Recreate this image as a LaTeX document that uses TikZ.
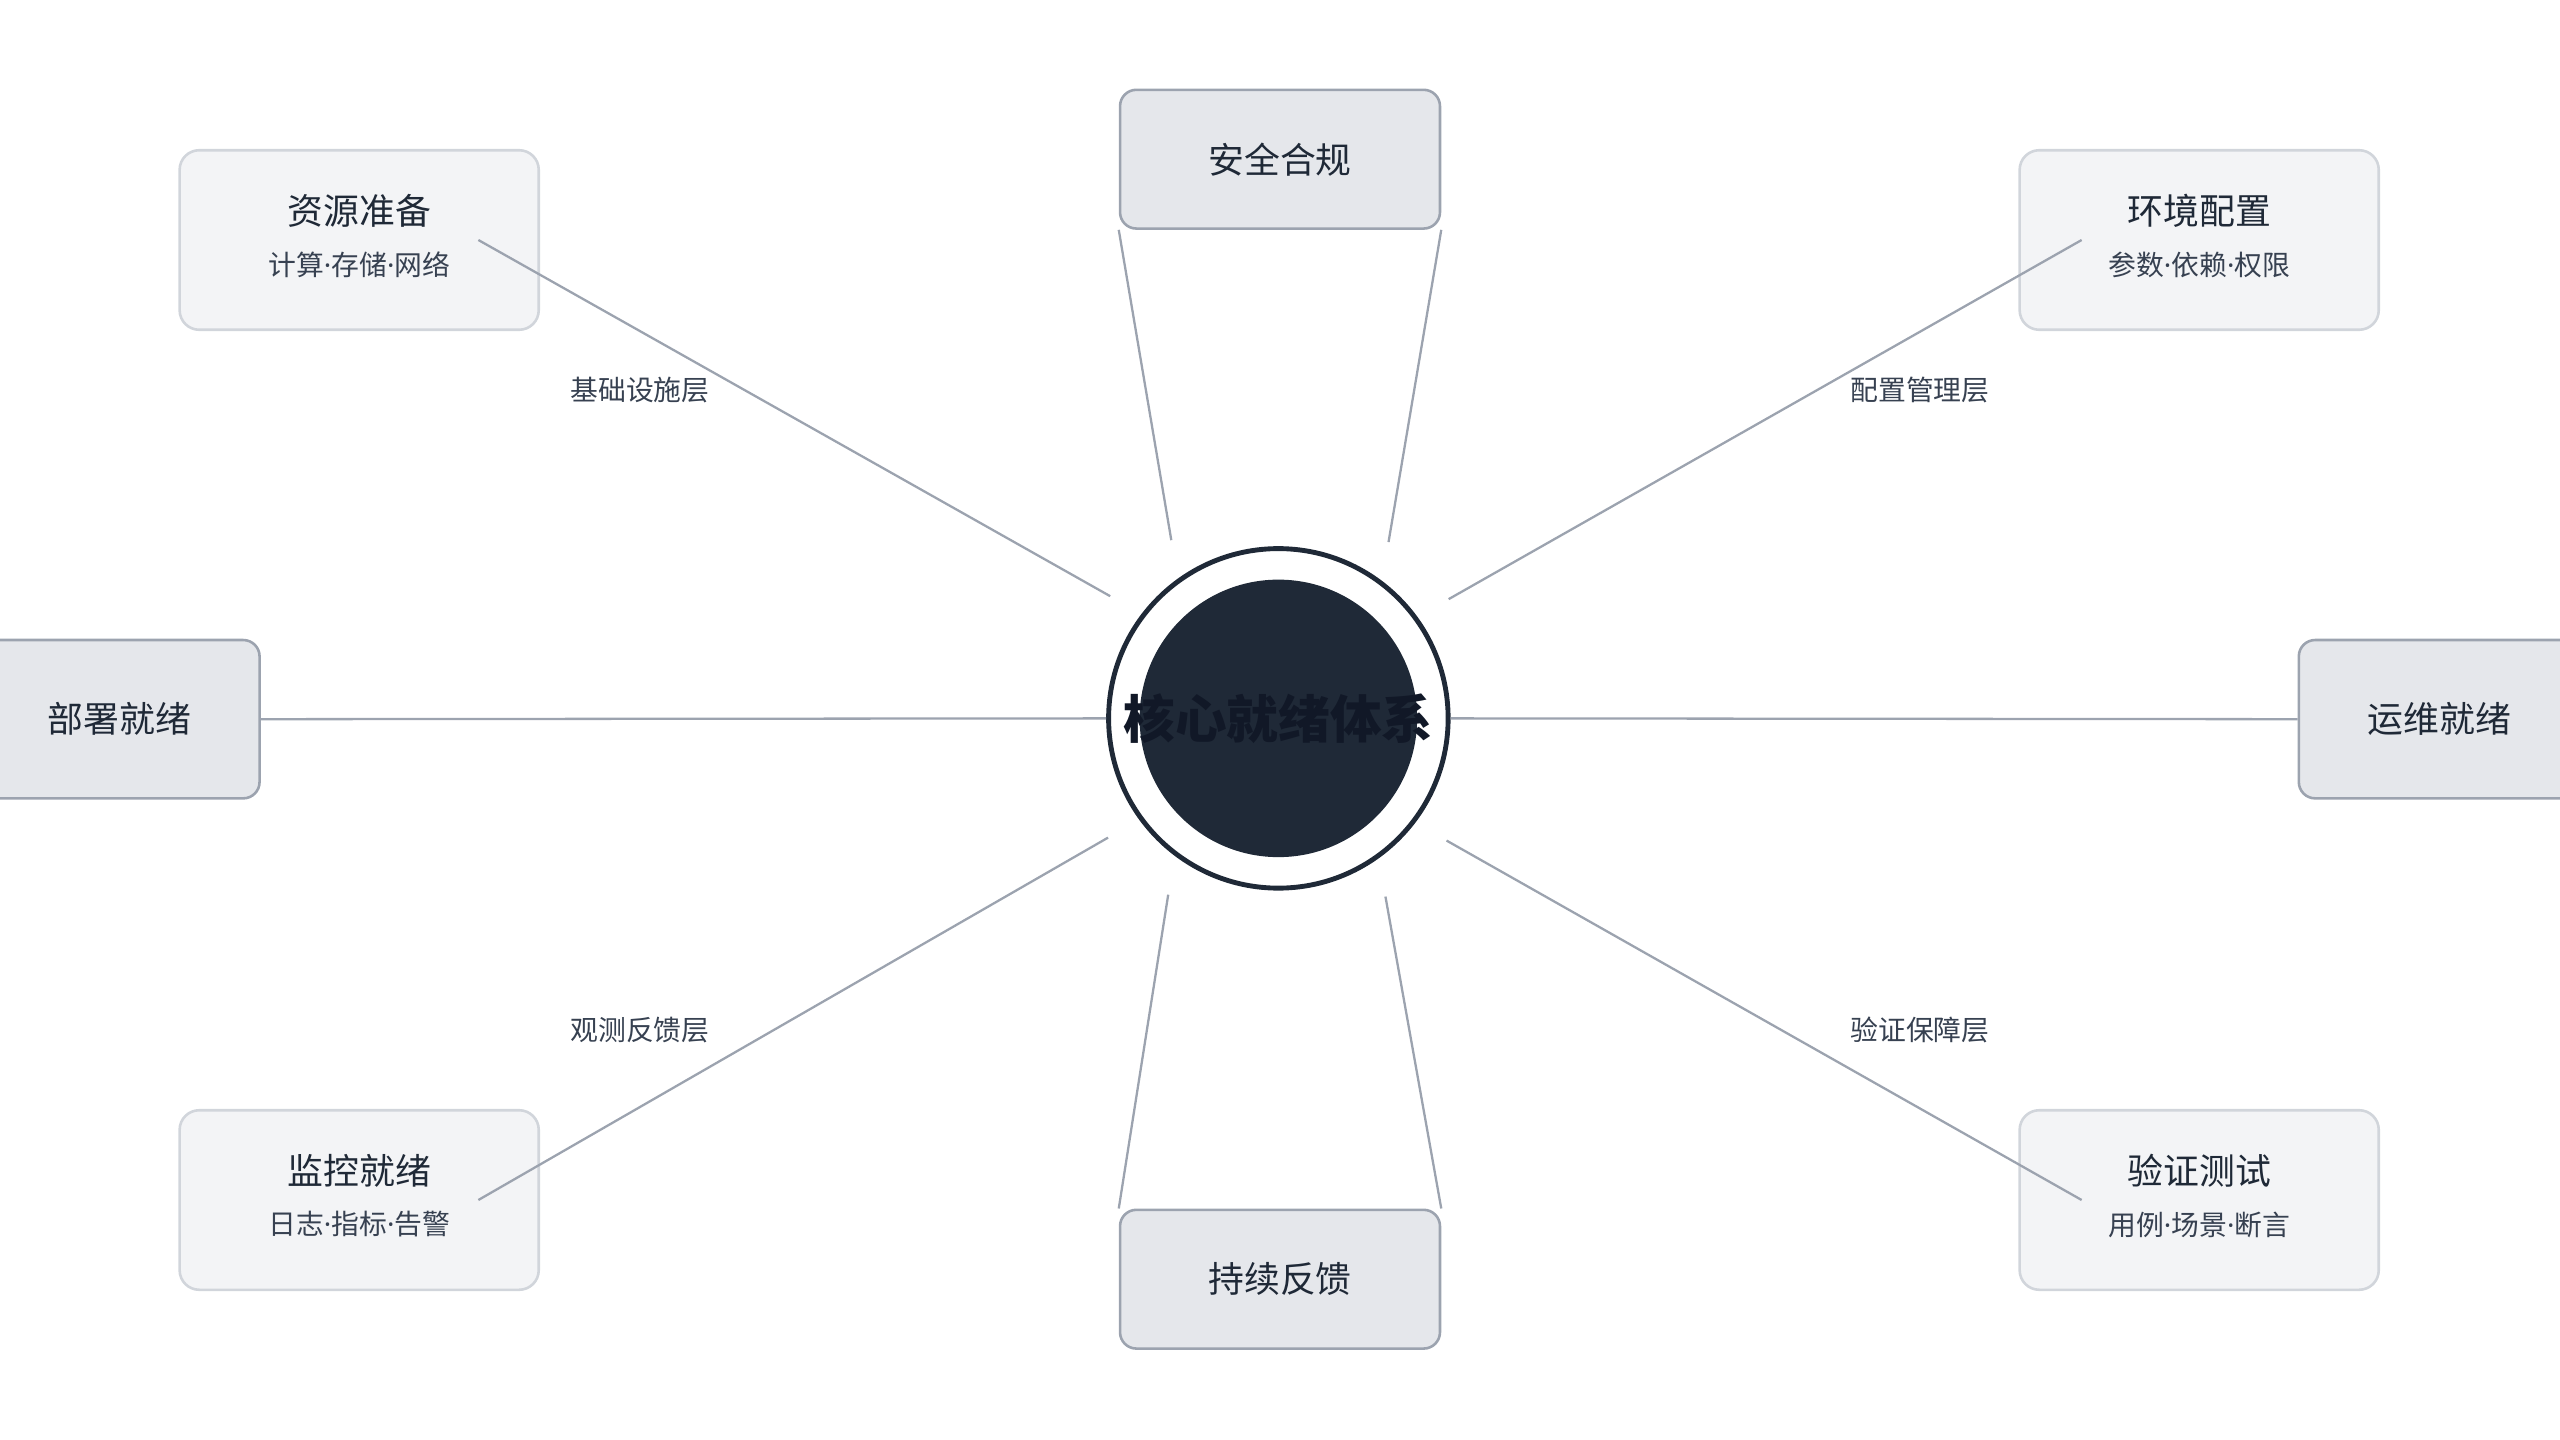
\documentclass[tikz,border=0pt]{standalone}
\usepackage{fontspec}
\setmainfont{Noto Sans CJK SC}
\newfontfamily\latinfont{Noto Sans}
\newcommand{\sepdot}{{\latinfont ·}}
\definecolor{ink}{HTML}{1F2937}
\definecolor{inkdeep}{HTML}{111827}
\definecolor{subink}{HTML}{374151}
\definecolor{edge}{HTML}{9CA3AF}
\definecolor{pale}{HTML}{D1D5DB}
\definecolor{boxgray}{HTML}{E5E7EB}
\definecolor{boxlight}{HTML}{F3F4F6}

\begin{document}
\begin{tikzpicture}[x=0.02cm,y=-0.02cm,
  every node/.style={inner sep=0pt},
  mainbox/.style={rectangle, rounded corners=0.2cm, fill=boxgray, draw=edge, line width=0.9pt, minimum width=3.92cm, minimum height=1.7cm, text=ink, font=\fontsize{12.5}{15}\selectfont},
  sidebox/.style={rectangle, rounded corners=0.24cm, fill=boxlight, draw=pale, line width=0.9pt, minimum width=4.4cm, minimum height=2.2cm},
  headtext/.style={text=ink, font=\fontsize{12.5}{15}\selectfont},
  subtext/.style={text=subink, font=\fontsize{9.7}{12}\selectfont},
  link/.style={draw=edge, line width=0.8pt}]
\clip (0,0) rectangle (1568,882);
% centre
\node (halo) [circle, minimum size=5.08cm] at (783,440) {};
\node (hub) [circle, minimum size=4.16cm, fill=white, draw=ink, line width=1.7pt] at (783,440) {};
\node (core) [circle, minimum size=3.4cm, fill=ink] at (783,440) {};
% boxes
\node (safe) [mainbox] at (784,97.5) {安全合规};
\node (feed) [mainbox] at (784,783.5) {持续反馈};
\node (deploy) [mainbox, minimum width=3.44cm, minimum height=1.94cm] at (73,440.5) {部署就绪};
\node (ops) [mainbox, minimum width=3.44cm, minimum height=1.94cm] at (1494,440.5) {运维就绪};
\node (res) [sidebox] at (220,147) {};
\node (res-t) [headtext] at (220,129) {资源准备};
\node (res-s) [subtext] at (220,162) {计算\sepdot 存储\sepdot 网络};
\node (env) [sidebox] at (1347,147) {};
\node (env-t) [headtext] at (1347,129) {环境配置};
\node (env-s) [subtext] at (1347,162) {参数\sepdot 依赖\sepdot 权限};
\node (mon) [sidebox] at (220,735) {};
\node (mon-t) [headtext] at (220,717) {监控就绪};
\node (mon-s) [subtext] at (220,750) {日志\sepdot 指标\sepdot 告警};
\node (test) [sidebox] at (1347,735) {};
\node (test-t) [headtext] at (1347,717) {验证测试};
\node (test-s) [subtext] at (1347,750) {用例\sepdot 场景\sepdot 断言};
\coordinate (res-tail) at (293,147);
\coordinate (env-tail) at (1275,147);
\coordinate (mon-tail) at (293,735);
\coordinate (test-tail) at (1275,735);
% connectors
\draw[link] (res-tail) -- (halo.144.7);
\draw[link] (env-tail) -- (halo.35.3);
\draw[link] (mon-tail) -- (halo.215.3);
\draw[link] (test-tail) -- (halo.324.7);
\draw[link] (safe.south west) -- (halo.121.6);
\draw[link] (safe.south east) -- (halo.58.4);
\draw[link] (feed.north west) -- (halo.238.4);
\draw[link] (feed.north east) -- (halo.301.6);
\draw[link] (deploy.east) -- (hub.west);
\draw[link] (hub.east) -- (ops.west);
% layer labels
\node (lay-base) [subtext] at (392,239) {基础设施层};
\node (lay-conf) [subtext] at (1176,239) {配置管理层};
\node (lay-obs) [subtext] at (392,631) {观测反馈层};
\node (lay-check) [subtext] at (1176,631) {验证保障层};
\node (title) [text=inkdeep, font=\fontsize{18}{22}\selectfont\bfseries] at (783,440) {核心就绪体系};
\end{tikzpicture}
\end{document}
